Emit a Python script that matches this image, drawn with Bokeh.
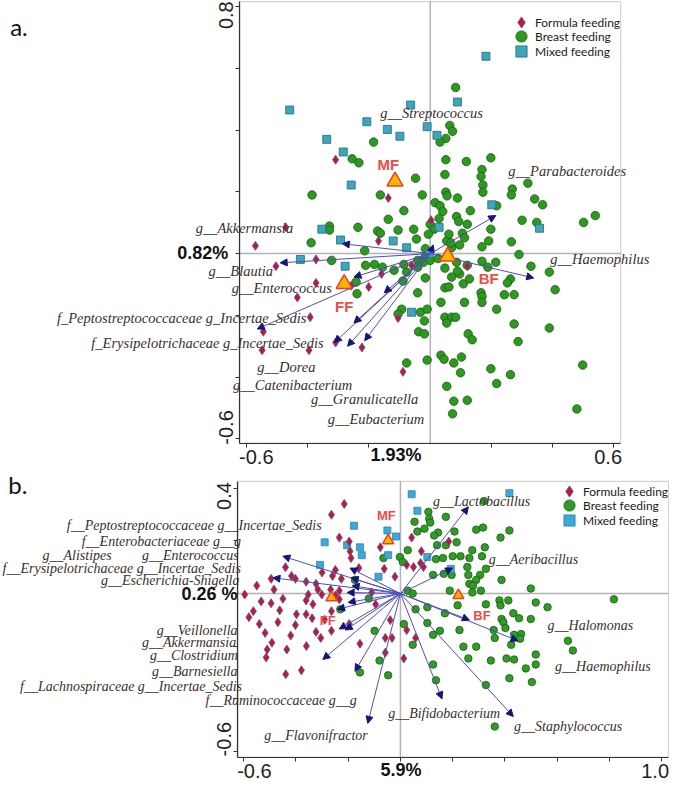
from bokeh.plotting import figure
from bokeh.models import (ColumnDataSource, LabelSet, Label, Arrow, NormalHead, BoxAnnotation,
                          Legend, LegendItem, FixedTicker, Range1d, PrintfTickFormatter)
from bokeh.layouts import column
from bokeh.core.properties import value
from bokeh.embed import file_html
from bokeh.resources import INLINE

# ------------------------------------------------------------------ panel a data
A_FF_X = [-0.309, -0.137, 0.003, -0.472, -0.169, -0.571, -0.373, -0.504, -0.061, -0.159,
          -0.373, -0.258, -0.201, 0.121, -0.434, -0.392, -0.545, -0.309, -0.549, -0.396,
          -0.105, -0.089, -0.223]
A_FF_Y = [0.304, 0.180, 0.108, 0.085, 0.041, 0.025, -0.019, -0.041, -0.038, -0.066,
          -0.095, -0.104, -0.108, -0.041, -0.142, -0.206, -0.253, -0.288, -0.313, -0.313,
          -0.209, -0.383, -0.304]

A_MF_X = [0.182, -0.459, -0.064, 0.089, -0.207, -0.140, -0.010, -0.099, 0.022, -0.338,
          -0.284, -0.258, 0.029, -0.354, -0.293, -0.121, -0.077, -0.003, -0.424, -0.278,
          0.201, 0.357, -0.061]
A_MF_Y = [0.639, 0.465, 0.481, 0.491, 0.427, 0.402, 0.411, 0.380, 0.383, 0.370,
          0.329, 0.222, 0.085, 0.079, 0.044, 0.041, 0.019, 0.000, -0.019, -0.041,
          0.158, 0.082, -0.190]

A_BF_X = [0.083, -0.185, 0.064, 0.073, 0.051, 0.032, -0.255, -0.233, 0.051, 0.118,
          0.048, -0.048, -0.386, -0.163, -0.026, 0.051, 0.055, 0.089, 0.016, 0.032,
          -0.086, 0.041, 0.086, 0.093, -0.137, 0.000, 0.013, 0.121, -0.329, -0.329,
          -0.236, -0.172, -0.163, -0.105, -0.054, -0.006, 0.105, 0.112, -0.045, 0.054,
          0.096, 0.070, -0.389, -0.016, -0.214, -0.322, -0.041, -0.016, -0.022, 0.000,
          0.026, -0.211, -0.182, -0.156, -0.118, -0.086, -0.041, 0.048, 0.086, 0.121,
          -0.077, -0.016, 0.070, 0.096, 0.108, -0.242, -0.089, -0.041, 0.048, 0.061,
          0.198, 0.169, 0.166, 0.172, 0.172, 0.268, 0.265, 0.319, 0.341, 0.367,
          0.539, 0.501, 0.217, 0.131, 0.029, 0.061, 0.067, 0.198, 0.191, 0.169,
          0.265, 0.290, 0.329, 0.389, 0.408, 0.169, 0.214, 0.188, 0.089, 0.128,
          0.262, 0.252, 0.166, 0.169, 0.242, 0.274, 0.169, 0.112, 0.035, 0.217,
          -0.093, -0.105, -0.032, -0.010, -0.019, 0.048, 0.070, 0.083, 0.054, 0.274,
          0.389, -0.038, -0.019, 0.124, 0.137, 0.287, 0.035, 0.045, 0.077, 0.102,
          -0.010, -0.077, 0.099, 0.198, 0.262, 0.498, 0.217, 0.054, 0.077, 0.121,
          0.073, 0.479, 0.300, 0.348, -0.239]
A_BF_Y = [0.538, 0.361, 0.415, 0.396, 0.373, 0.361, 0.307, 0.294, 0.304, 0.298,
          0.256, 0.244, 0.190, 0.190, 0.190, 0.199, 0.187, 0.180, 0.165, 0.155,
          0.139, 0.136, 0.120, 0.104, 0.111, 0.095, 0.079, 0.095, 0.089, 0.076,
          0.085, 0.073, 0.066, 0.076, 0.079, 0.063, 0.066, 0.051, 0.047, 0.041,
          0.028, 0.019, 0.035, 0.016, 0.009, -0.022, -0.022, -0.009, -0.028, -0.022,
          -0.016, -0.038, -0.035, -0.044, -0.054, -0.035, -0.044, -0.047, -0.028, -0.038,
          -0.060, -0.079, -0.076, -0.066, -0.098, -0.092, -0.089, -0.127, -0.111, -0.108,
          0.310, 0.272, 0.250, 0.222, 0.199, 0.209, 0.190, 0.228, 0.177, 0.158,
          0.123, 0.101, 0.155, 0.139, 0.114, 0.063, 0.035, 0.079, 0.041, 0.022,
          0.038, -0.003, -0.041, -0.060, -0.117, -0.025, -0.028, -0.044, -0.057, -0.082,
          -0.082, -0.095, -0.127, -0.139, -0.133, -0.133, -0.158, -0.158, -0.158, -0.180,
          -0.180, -0.196, -0.190, -0.180, -0.218, -0.206, -0.206, -0.206, -0.225, -0.228,
          -0.241, -0.253, -0.260, -0.260, -0.279, -0.285, -0.329, -0.342, -0.354, -0.335,
          -0.345, -0.354, -0.386, -0.373, -0.392, -0.361, -0.421, -0.430, -0.478, -0.475,
          -0.519, -0.503, 0.108, 0.101, -0.130]

A_CENT_NAME = ["MF", "BF", "FF"]
A_CENT_X = [-0.115, 0.057, -0.281]
A_CENT_Y = [0.234, -0.009, -0.098]
A_CENT_LX = [-0.137, 0.191, -0.281]
A_CENT_LY = [0.288, -0.082, -0.171]

A_SPECIES = ["g__Streptococcus", "g__Parabacteroides", "g__Haemophilus", "g__Akkermansia",
             "g__Blautia", "g__Enterococcus", "f_Peptostreptococcaceae g_Incertae_Sedis",
             "f_Erysipelotrichaceae g_Incertae_Sedis", "g__Dorea", "g__Catenibacterium",
             "g__Granulicatella", "g__Eubacterium"]
A_ARROW_X = [0.010, 0.214, 0.338, -0.287, -0.490, -0.249, -0.565, -0.313, -0.270, -0.214, -0.249, -0.150]
A_ARROW_Y = [0.028, 0.123, -0.079, 0.032, -0.030, -0.076, -0.244, -0.288, -0.300, -0.282, -0.225, -0.127]
A_LABEL_X = [-0.163, 0.255, 0.392, -0.766, -0.724, -0.648, -1.219, -1.107, -0.565, -0.644, -0.389, -0.335]
A_LABEL_Y = [0.456, 0.266, -0.016, 0.082, -0.057, -0.111, -0.209, -0.288, -0.367, -0.424, -0.472, -0.535]

A_X_TICKLABELS = [-0.568, 0.581]
A_X_TICKMARKS = [-0.6, -0.4, -0.2, 0.2, 0.4, 0.6]
A_Y_TICKLABELS = [-0.563, 0.772]
A_Y_TICKMARKS = [-0.6, -0.4, -0.2, 0.0, 0.2, 0.4, 0.6, 0.8]

# ------------------------------------------------------------------ panel b data
B_FF_X = [-0.215, -0.264, -0.234, -0.196, -0.193, -0.189, -0.077, -0.159, -0.249, -0.260,
          -0.226, -0.417, -0.402, -0.495, -0.484, -0.361, -0.323, -0.316, -0.301, -0.267,
          -0.234, -0.249, -0.234, -0.596, -0.353, -0.361, -0.533, -0.495, -0.335, -0.563,
          -0.462, -0.398, -0.361, -0.338, -0.264, -0.540, -0.469, -0.402, -0.323, -0.305,
          -0.264, -0.196, -0.518, -0.492, -0.510, -0.514, -0.435, -0.155, -0.379, -0.439,
          0.043, 0.080, 0.185, 0.024, 0.050, 0.077, 0.088, -0.062, -0.021, -0.095,
          -0.039, -0.058, -0.032, 0.024, 0.058, -0.058, 0.013, -0.110,
          -0.44, -0.30, -0.45, -0.29, -0.58, -0.42, -0.36, -0.55]
B_FF_Y = [0.341, 0.300, 0.213, 0.198, 0.161, 0.135, 0.176, 0.097, 0.090, 0.067,
          0.056, 0.067, 0.056, 0.056, 0.015, 0.045, 0.037, 0.015, -0.004, 0.015,
          0.011, -0.007, -0.022, -0.004, -0.004, -0.026, -0.030, -0.037, -0.041, -0.067,
          -0.064, -0.079, -0.079, -0.094, -0.067, -0.116, -0.109, -0.120, -0.146, -0.169,
          -0.142, -0.116, -0.150, -0.187, -0.213, -0.243, -0.213, -0.191, -0.292, -0.307,
          0.213, 0.161, 0.198, 0.109, 0.101, 0.116, 0.101, 0.094, 0.064, -0.041,
          -0.101, -0.169, -0.169, -0.139, -0.169, -0.225, -0.247, 0.004,
          0.10, 0.08, -0.02, -0.10, -0.09, -0.16, -0.20, 0.03]

B_MF_X = [0.043, 0.417, 0.065, -0.178, -0.050, -0.017, -0.290, -0.204, -0.155, -0.148,
          -0.047, 0.103, 0.193, -0.308, -0.084]
B_MF_Y = [0.378, 0.382, 0.315, 0.258, 0.240, 0.217, 0.195, 0.184, 0.176, 0.146,
          0.146, 0.139, 0.094, 0.109, 0.064]

B_BF_X = [-0.174, -0.121, -0.230, -0.155,
          0.107, 0.110, 0.114, 0.174, 0.054, 0.092, 0.065, 0.144, 0.129, 0.207,
          0.320, 0.290, 0.316, 0.417, 0.383, 0.174, 0.140, 0.215, 0.275, 0.323,
          0.028, -0.002, -0.065, 0.009, 0.136, 0.163, 0.200, 0.230, 0.312, 0.264,
          0.256, 0.327, 0.125, 0.166, 0.196, 0.260, 0.305, 0.290, 0.264, 0.278,
          0.308, 0.275, 0.387, 0.499, 0.189, 0.028, 0.047, 0.219, 0.058, 0.103,
          0.170, 0.327, 0.379, 0.413, 0.383, 0.432, 0.454, 0.499, 0.518, 0.563,
          0.387, 0.394, 0.402, 0.226, 0.357, 0.462, 0.458, 0.435, 0.361, 0.103,
          0.013, 0.151, 0.125, 0.047, 0.241, 0.290, 0.424, 0.518, 0.406, 0.435,
          0.260, 0.346, 0.125, 0.518, 0.480, 0.641, 0.660, 0.817, -0.099, -0.080,
          -0.047, 0.136, 0.327, 0.417, 0.503, 0.361]
B_BF_Y = [0.052, -0.019, -0.060, -0.300,
          0.311, 0.285, 0.270, 0.292, 0.273, 0.247, 0.236, 0.232, 0.221, 0.236,
          0.352, 0.243, 0.251, 0.240, 0.213, 0.184, 0.184, 0.195, 0.165, 0.176,
          0.165, 0.139, 0.135, 0.120, 0.131, 0.135, 0.142, 0.142, 0.142, 0.135,
          0.101, 0.094, 0.071, 0.075, 0.071, 0.071, 0.071, 0.052, 0.037, 0.030,
          0.011, 0.004, 0.052, 0.019, 0.011, 0.011, 0.000, -0.045, -0.060, -0.052,
          -0.075, -0.041, -0.026, -0.026, -0.045, -0.075, -0.094, -0.097, -0.034, -0.052,
          -0.097, -0.109, -0.131, -0.139, -0.139, -0.154, -0.172, -0.157, -0.169, -0.112,
          -0.116, -0.142, -0.157, -0.195, -0.202, -0.202, -0.195, -0.232, -0.247, -0.251,
          -0.247, -0.255, -0.270, -0.270, -0.285, -0.180, -0.217, -0.022, -0.142, -0.255,
          -0.311, -0.330, -0.348, -0.322, -0.337, -0.506]

B_CENT_NAME = ["MF", "BF", "FF"]
B_CENT_X = [-0.047, 0.222, -0.264]
B_CENT_Y = [0.202, -0.007, -0.015]
B_CENT_LX = [-0.054, 0.312, -0.278]
B_CENT_LY = [0.296, -0.082, -0.101]

B_SPECIES = ["f__Peptostreptococcaceae g__Incertae_Sedis", "f__Enterobacteriaceae g__g",
             "g__Alistipes", "g__Enterococcus", "f__Erysipelotrichaceae g__Incertae_Sedis",
             "g__Escherichia-Shigella", "g__Veillonella", "g__Akkermansia", "g__Clostridium",
             "g__Barnesiella", "f__Lachnospiraceae g__Incertae_Sedis", "f__Ruminococcaceae g__g",
             "g__Flavonifractor", "g__Lactobacillus", "g__Aeribacillus", "g__Halomonas",
             "g__Haemophilus", "g__Bifidobacterium", "g__Staphylococcus"]
B_ARROW_X = [-0.450, -0.193, -0.488, -0.189, -0.185, -0.204, -0.200, -0.241, -0.211, -0.234,
             -0.297, -0.174, -0.125, 0.260, 0.200, 0.450, 0.264, 0.159, 0.432]
B_ARROW_Y = [0.142, 0.097, 0.060, 0.060, 0.030, 0.004, -0.034, -0.060, -0.139, -0.135,
             -0.251, -0.296, -0.494, 0.330, 0.097, -0.180, -0.101, -0.401, -0.468]
B_LABEL_X = [-1.277, -1.220, -1.370, -0.989, -1.523, -1.146, -0.933, -0.989, -0.959, -0.951,
             -1.456, -0.746, -0.521, 0.125, 0.338, 0.563, 0.592, -0.047, 0.435]
B_LABEL_Y = [0.258, 0.198, 0.146, 0.146, 0.097, 0.049, -0.139, -0.187, -0.236, -0.296,
             -0.352, -0.408, -0.539, 0.352, 0.131, -0.120, -0.277, -0.457, -0.506]

B_X_TICKLABELS = [-0.559, 0.975]
B_X_TICKMARKS = [-0.6, -0.4, -0.2, 0.0, 0.2, 0.4, 0.6, 0.8, 1.0]
B_Y_TICKLABELS = [-0.554, 0.371]
B_Y_TICKMARKS = [-0.6, -0.4, -0.2, 0.0, 0.2, 0.4]

LEGEND_LABELS = ["Formula feeding", "Breast feeding", "Mixed feeding"]

# visible plot box of each panel, and the full extent of each figure (axis units)
A_XBOX, A_YBOX = (-0.622, 0.622), (-0.614, 0.816)
A_XR, A_YR = (-1.4035, 0.7815), (-0.7057, 0.8196)
B_XBOX, B_YBOX = (-0.622, 1.026), (-0.622, 0.427)
B_XR, B_YR = (-1.5308, 1.0299), (-0.7228, 0.4644)


def base_panel(width, height, xr, yr, xbox, ybox, xlab, xmark, ylab, ymark):
    p = figure(width=width, height=height, x_range=Range1d(*xr), y_range=Range1d(*yr),
               output_backend="svg", toolbar_location=None,
               min_border_left=0, min_border_right=0, min_border_top=0, min_border_bottom=0)
    p.grid.visible = False
    p.outline_line_color = None
    p.background_fill_color = "white"
    p.border_fill_color = "white"
    p.xaxis.ticker = FixedTicker(ticks=xlab, minor_ticks=xmark)
    p.yaxis.ticker = FixedTicker(ticks=ylab, minor_ticks=ymark)
    p.xaxis.fixed_location = ybox[0]
    p.yaxis.fixed_location = xbox[0]
    p.xaxis.bounds = xbox
    p.yaxis.bounds = ybox
    for ax in (p.xaxis[0], p.yaxis[0]):
        ax.formatter = PrintfTickFormatter(format="%.1f")
        ax.major_tick_line_color = None
        ax.major_tick_out = 4
        ax.major_tick_in = 0
        ax.minor_tick_line_color = "#333333"
        ax.minor_tick_out = 4
        ax.minor_tick_in = 0
        ax.axis_line_color = "#333333"
        ax.axis_line_width = 1.2
        ax.major_label_text_font = "Liberation Sans"
        ax.major_label_text_font_size = "20px"
        ax.major_label_text_color = "#1e1e1e"
        ax.major_label_standoff = 3
    p.yaxis[0].major_label_orientation = "vertical"
    # plot box (top and right edges) and the two zero lines
    p.add_layout(BoxAnnotation(left=xbox[0], right=xbox[1], bottom=ybox[0], top=ybox[1],
                               fill_alpha=0, line_color="#6f6f6f", line_width=1.2,
                               level="underlay"))
    p.segment(x0=[xbox[0], 0.0], y0=[0.0, ybox[0]], x1=[xbox[1], 0.0], y1=[0.0, ybox[1]],
              line_color="#b3b3b3", line_width=1.5, level="underlay")
    return p


def add_content(p, ff, bf, mf, cent, arrows, species, sizes, colors, legend_locs, legend_font):
    r_bf = p.scatter(x=bf[0], y=bf[1], marker="circle", size=sizes[1],
                     fill_color=colors[1], line_color=colors[4], line_width=0.8)
    r_mf = p.scatter(x=mf[0], y=mf[1], marker="square", size=sizes[2],
                     fill_color=colors[2], line_color=colors[5], line_width=0.8)
    r_ff = p.scatter(x=ff[0], y=ff[1], marker="diamond", size=sizes[0],
                     fill_color=colors[0], line_color=colors[3], line_width=0.9)

    asrc = ColumnDataSource(dict(x0=[0.0] * len(arrows[0]), y0=[0.0] * len(arrows[0]),
                                 x1=arrows[0], y1=arrows[1]))
    p.add_layout(Arrow(end=NormalHead(size=7, fill_color="#14147a", line_color="#14147a"),
                       x_start="x0", y_start="y0", x_end="x1", y_end="y1", source=asrc,
                       line_color="#4f4fb5", line_width=1.0))

    csrc = ColumnDataSource(dict(x=cent[0], y=cent[1], lx=cent[2], ly=cent[3], t=cent[4]))
    p.scatter(x="x", y="y", source=csrc, marker="triangle", size=sizes[3],
              fill_color="#ffb400", line_color="#ea4127", line_width=1.5, level="overlay")
    p.add_layout(LabelSet(x="lx", y="ly", text="t", source=csrc,
                          text_font=value("Liberation Sans"), text_font_style="bold",
                          text_font_size=sizes[4], text_color="#ef4a44",
                          text_align="center", text_baseline="middle"))

    ssrc = ColumnDataSource(dict(x=species[1], y=species[2], t=species[0]))
    p.add_layout(LabelSet(x="x", y="y", text="t", source=ssrc,
                          text_font=value("Liberation Serif"), text_font_style="italic",
                          text_font_size=sizes[5], text_color="#3a302b",
                          text_align="left", text_baseline="middle"))

    for label, rend, loc in zip(LEGEND_LABELS, (r_ff, r_bf, r_mf), legend_locs):
        p.add_layout(Legend(items=[LegendItem(label=label, renderers=[rend])],
                            location=loc, glyph_width=28, glyph_height=28, spacing=0,
                            padding=0, margin=0, label_standoff=-5, label_height=13,
                            label_text_font="Lato", label_text_font_size=legend_font,
                            label_text_color="#1a1a1a",
                            background_fill_alpha=0, border_line_alpha=0))


def text_label(p, x, y, text, size, bold=True, font="Liberation Sans", align="center"):
    p.add_layout(Label(x=x, y=y, text=text, text_font=font,
                       text_font_style="bold" if bold else "normal", text_font_size=size,
                       text_color="#111111", text_align=align, text_baseline="middle"))


# ------------------------------------------------------------------ panel a
pa = base_panel(669, 471, A_XR, A_YR, A_XBOX, A_YBOX,
                A_X_TICKLABELS, A_X_TICKMARKS, A_Y_TICKLABELS, A_Y_TICKMARKS)
add_content(pa, (A_FF_X, A_FF_Y), (A_BF_X, A_BF_Y), (A_MF_X, A_MF_Y),
            (A_CENT_X, A_CENT_Y, A_CENT_LX, A_CENT_LY, A_CENT_NAME),
            (A_ARROW_X, A_ARROW_Y), (A_SPECIES, A_LABEL_X, A_LABEL_Y),
            (9, 8.5, 8, 16, "15px", "14.5px"),
            ("#d3102e", "#2b9a1e", "#3ba6be", "#4a62b0", "#1f5a14", "#2b6a78"),
            [(507, 435), (507, 421), (507, 406)], "12px")
text_label(pa, -0.743, 0.003, "0.82%", "18px")
text_label(pa, -0.112, -0.652, "1.93%", "18px")
text_label(pa, -1.372, 0.734, "a.", "24px", bold=False, font="Lato", align="left")

# ------------------------------------------------------------------ panel b
pb = base_panel(669, 312, B_XR, B_YR, B_XBOX, B_YBOX,
                B_X_TICKLABELS, B_X_TICKMARKS, B_Y_TICKLABELS, B_Y_TICKMARKS)
add_content(pb, (B_FF_X, B_FF_Y), (B_BF_X, B_BF_Y), (B_MF_X, B_MF_Y),
            (B_CENT_X, B_CENT_Y, B_CENT_LX, B_CENT_LY, B_CENT_NAME),
            (B_ARROW_X, B_ARROW_Y), (B_SPECIES, B_LABEL_X, B_LABEL_Y),
            (9, 7.5, 7, 11, "13px", "14px"),
            ("#cf1428", "#2f9c26", "#3aa9dc", "#4a62b0", "#1f5a14", "#3a7fa3"),
            [(555, 278), (555, 264), (555, 249)], "12px")
text_label(pb, -0.731, 0.0, "0.26 %", "18px")
text_label(pb, 0.002, -0.670, "5.9%", "18px")
text_label(pb, -1.501, 0.416, "b.", "24px", bold=False, font="Lato", align="left")

layout = column(pa, pb)
open("out.html", "w").write(file_html(layout, INLINE))
